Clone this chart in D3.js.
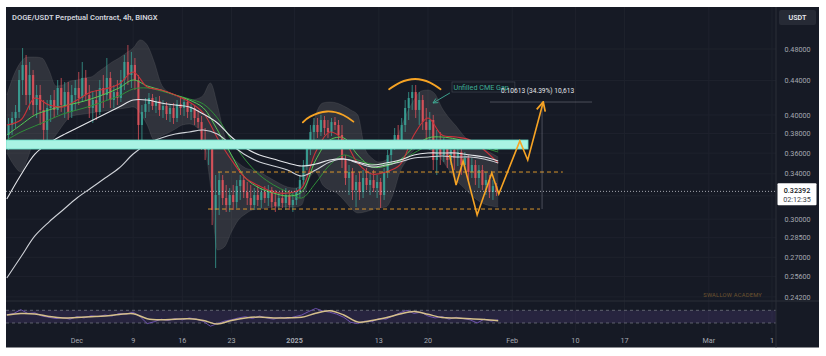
<!DOCTYPE html>
<html><head><meta charset="utf-8">
<script src="https://cdn.jsdelivr.net/npm/d3@7"></script>
<style>html,body{margin:0;padding:0;background:#fff;}svg{display:block;font-family:Roboto,"DejaVu Sans",sans-serif;}</style>
</head><body><svg id="c" width="826" height="356"></svg>
<script>
// ---------------- DATA ----------------
const title = "DOGE/USDT Perpetual Contract, 4h, BINGX";
const currency = "USDT";
const lastPrice = 0.32392;
const countdown = "02:12:35";
const watermark = "SWALLOW ACADEMY";

// 12h candles starting 2024-11-21 00:00 UTC
const candleStart = "2024-11-21T00:00:00Z";
const candleHours = 12;
const candleOpen = [
.3785,.3891,.3967,.4034,.4406,.4593,.4227,.4467,.4112,.4227,
.4056,.3838,.4078,.4169,.4056,.4310,.4112,.4262,.4034,.4227,
.4310,.4192,.4431,.4227,.4078,.4169,.4034,.4310,.4227,.4431,
.4169,.4262,.4192,.4406,.4631,.4467,.4593,.4406,.3891,.4034,
.4123,.4192,.4101,.4158,.4056,.4101,.4011,.4078,.3967,.4123,
.4078,.4146,.4034,.4078,.3967,.3923,.3733,.3631,.3682,.3077,
.3207,.3342,.3180,.3119,.3207,.3145,.3287,.3342,.3233,.3180,
.3119,.3207,.3163,.3233,.3180,.3251,.3145,.3111,.3180,.3137,
.3207,.3119,.3163,.3233,.3342,.3484,.3651,.3816,.3891,.3816,
.3945,.3859,.3816,.3923,.3891,.3785,.3532,.3361,.3417,.3251,
.3324,.3233,.3361,.3297,.3342,.3269,.3324,.3207,.3417,.3581,
.3682,.3785,.3733,.3891,.4078,.4192,.4262,.4056,.4169,.3923,
.3838,.3945,.3532,.3733,.3581,.3682,.3532,.3631,.3552,.3611,
.3484,.3552,.3417,.3484,.3361,.3436,.3297,.3342,.3233,.3287];
const candleHigh = [
.3967,.4034,.4112,.4530,.4813,.4721,.4631,.4530,.4346,.4346,
.4169,.4169,.4227,.4286,.4406,.4431,.4382,.4382,.4346,.4406,
.4505,.4631,.4530,.4346,.4262,.4286,.4406,.4467,.4682,.4505,
.4346,.4406,.4530,.4721,.4853,.4761,.4682,.4467,.4112,.4192,
.4251,.4239,.4204,.4216,.4169,.4146,.4123,.4135,.4169,.4192,
.4192,.4181,.4123,.4101,.4056,.3989,.3859,.3733,.3712,.3389,
.3417,.3389,.3297,.3269,.3297,.3342,.3389,.3380,.3324,.3297,
.3269,.3287,.3269,.3287,.3297,.3278,.3251,.3233,.3251,.3269,
.3251,.3233,.3269,.3389,.3532,.3733,.3891,.3967,.3967,.4000,
.3989,.3945,.3967,.3978,.3945,.3891,.3581,.3484,.3455,.3389,
.3417,.3436,.3455,.3417,.3436,.3389,.3361,.3455,.3631,.3733,
.3859,.3891,.3967,.4169,.4262,.4346,.4346,.4262,.4227,.4078,
.4034,.4000,.3838,.3816,.3754,.3733,.3682,.3672,.3651,.3651,
.3611,.3581,.3552,.3532,.3484,.3484,.3417,.3389,.3342,.3315];
const candleLow = [
.3631,.3785,.3859,.3967,.4227,.4112,.4056,.4000,.3967,.3891,
.3682,.3733,.3923,.3967,.4000,.4034,.3967,.3945,.3967,.4056,
.4112,.4146,.4169,.3967,.3913,.3945,.4000,.4078,.4169,.4078,
.4078,.4112,.4146,.4286,.4346,.4310,.4286,.3702,.3733,.3967,
.4034,.4056,.4022,.3989,.3967,.3945,.3923,.3902,.3923,.4000,
.3989,.3967,.3945,.3891,.3859,.3631,.3532,.3484,.2951,.2621,
.3034,.3119,.3060,.3060,.3077,.3094,.3163,.3180,.3119,.3077,
.3077,.3111,.3094,.3137,.3111,.3094,.3060,.3077,.3094,.3077,
.3077,.3060,.3119,.3180,.3297,.3436,.3581,.3733,.3754,.3774,
.3785,.3754,.3774,.3838,.3733,.3455,.3297,.3207,.3163,.3102,
.3163,.3180,.3251,.3207,.3233,.3180,.3094,.3163,.3361,.3484,
.3631,.3651,.3682,.3816,.3945,.4056,.3967,.3891,.3838,.3733,
.3631,.3436,.3389,.3484,.3513,.3455,.3484,.3436,.3474,.3389,
.3436,.3342,.3361,.3297,.3269,.3251,.3207,.3180,.3163,.3198];
const candleClose = [
.3891,.3967,.4034,.4406,.4593,.4227,.4467,.4112,.4227,.4056,
.3838,.4078,.4169,.4056,.4310,.4112,.4262,.4034,.4227,.4310,
.4192,.4431,.4227,.4078,.4169,.4034,.4310,.4227,.4431,.4169,
.4262,.4192,.4406,.4631,.4467,.4593,.4406,.3891,.4034,.4123,
.4192,.4101,.4158,.4056,.4101,.4011,.4078,.3967,.4123,.4078,
.4146,.4034,.4078,.3967,.3923,.3733,.3631,.3682,.3077,.3207,
.3342,.3180,.3119,.3207,.3145,.3287,.3342,.3233,.3180,.3119,
.3207,.3163,.3233,.3180,.3251,.3145,.3111,.3180,.3137,.3207,
.3119,.3163,.3233,.3342,.3484,.3651,.3816,.3891,.3816,.3945,
.3859,.3816,.3923,.3891,.3785,.3532,.3361,.3417,.3251,.3324,
.3233,.3361,.3297,.3342,.3269,.3324,.3207,.3417,.3581,.3682,
.3785,.3733,.3891,.4078,.4192,.4262,.4056,.4169,.3923,.3838,
.3945,.3532,.3733,.3581,.3682,.3532,.3631,.3552,.3611,.3484,
.3552,.3417,.3484,.3361,.3436,.3297,.3342,.3233,.3287,.32392];

// Moving averages, sampled every 2 days from 2024-11-21
const maStart = "2024-11-21T00:00:00Z";
const maStepDays = 2;
const maWhiteA = [.3171,.3389,.3591,.3702,.3785,.3859,.3934,.4011,.4090,.4169,.4169,.4135,.4112,.4090,.4011,.3913,.3764,.3651,.3581,.3542,.3503,.3474,.3493,.3532,.3542,.3513,.3484,.3503,.3532,.3581,.3601,.3601,.3601,.3581,.3562,.3523];
const maWhiteB = [.2550,.2702,.2864,.2976,.3077,.3180,.3269,.3361,.3455,.3591,.3692,.3754,.3795,.3816,.3838,.3795,.3682,.3581,.3513,.3474,.3436,.3380,.3436,.3513,.3542,.3503,.3465,.3484,.3513,.3552,.3562,.3572,.3562,.3562,.3542,.3503];
const maRed = [.3891,.3945,.4192,.4112,.4090,.4169,.4262,.4298,.4358,.4505,.4322,.4286,.4227,.4146,.4022,.3754,.3532,.3361,.3287,.3233,.3224,.3269,.3611,.3816,.3733,.3503,.3398,.3417,.3484,.3785,.3967,.3785,.3764,.3733,.3631,.3503];
const maGreenA = [.3785,.3891,.4000,.4056,.4101,.4135,.4181,.4239,.4310,.4406,.4334,.4286,.4227,.4169,.4078,.3838,.3581,.3361,.3269,.3224,.3198,.3233,.3532,.3733,.3754,.3581,.3465,.3474,.3532,.3662,.3754,.3764,.3743,.3712,.3672,.3631];
const maGreenB = [.3733,.3816,.3880,.3945,.4011,.4056,.4101,.4158,.4216,.4298,.4310,.4274,.4227,.4181,.4123,.3967,.3733,.3532,.3389,.3297,.3233,.3180,.3315,.3484,.3581,.3532,.3493,.3493,.3523,.3601,.3672,.3702,.3702,.3682,.3651,.3611];

// Envelope band, daily from 2024-11-21
const bandStart = "2024-11-21T00:00:00Z";
const bandUpper = [.4227,.4467,.4631,.4695,.4695,.4682,.4530,.4334,.4346,.4394,
.4406,.4431,.4443,.4505,.4567,.4631,.4682,.4747,.4813,.4922,
.4853,.4631,.4358,.4262,.4216,.4192,.4169,.4181,.4227,.4370,
.4112,.3785,.3581,.3503,.3455,.3436,.3417,.3380,.3342,.3306,
.3278,.3269,.3297,.3682,.4000,.4135,.4146,.4135,.4101,.4056,
.4000,.3651,.3552,.3513,.3532,.3662,.3838,.4022,.4169,.4274,
.4286,.4239,.4078,.3967,.3880,.3785,.3712,.3672,.3641,.3601,.3562];
const bandLower = [.3601,.3484,.3417,.3552,.3733,.3712,.3702,.3785,.3891,.3978,
.4000,.4011,.4022,.4034,.4045,.4056,.4067,.4078,.4090,.4022,
.3891,.3733,.3774,.3806,.3848,.3891,.3902,.3870,.3733,.3297,
.2755,.2778,.2895,.2993,.3043,.3077,.3085,.3094,.3102,.3102,
.3102,.3102,.3119,.3342,.3417,.3297,.3251,.3224,.3163,.3094,
.3051,.3060,.3077,.3094,.3102,.3207,.3417,.3532,.3631,.3662,
.3641,.3601,.3532,.3436,.3342,.3278,.3216,.3163,.3128,.3111,.3102];

// RSI (daily) and its moving average (every 2 days)
const rsiValues = [56,60,72,60,62,52,48,44,47,42,
50,46,53,50,55,52,60,58,64,50,
28,34,42,38,44,40,46,42,35,20,
28,36,40,46,50,44,52,46,42,48,
44,50,55,66,76,68,64,58,48,32,
28,36,34,44,42,52,62,70,60,64,
52,46,50,42,48,44,40,30,42,36,40];
const rsiMA = [55.2,59.9,58.3,50.5,45.7,47.3,49.5,52,56.5,59.3,43.5,40.1,42,43.2,37.9,26.8,37.9,45.7,48.9,45.7,46.4,48,60.6,68.4,55.2,33.1,37.9,46.4,58.3,66.2,57.4,47.3,45.7,43.5,41,37.2];
const rsiLevels = [70, 30];

// Axis ticks
const priceTicks = [0.48,0.44,0.40,0.38,0.36,0.34,0.30,0.285,0.27,0.256,0.242];
const priceGridOnly = [0.32];
const timeTickDates = ["2024-12-01","2024-12-09","2024-12-16","2024-12-23","2025-01-01","2025-01-13","2025-01-20","2025-02-01","2025-02-10","2025-02-17","2025-03-01","2025-03-10"];
const timeTickLabels = ["Dec","9","16","23","2025","13","20","Feb","10","17","Mar","1"];

// Drawings
const zoneTop = 0.3733, zoneBottom = 0.3641, zoneEnd = "2025-02-03T06:00:00Z";
const levelUpper = {price:0.3417, from:"2024-12-21T02:00:00Z", to:"2025-02-08T05:00:00Z"};
const levelLower = {price:0.3085, from:"2024-12-19T16:00:00Z", to:"2025-02-04T23:00:00Z"};
const projDates = ["2025-01-23T02:00:00Z","2025-01-24T00:00:00Z","2025-01-25T00:00:00Z","2025-01-27T00:00:00Z","2025-01-29T02:00:00Z","2025-01-30T02:00:00Z","2025-02-02T02:00:00Z","2025-02-03T05:00:00Z","2025-02-05T10:00:00Z"];
const projPrices = [0.3581,0.3297,0.3523,0.3034,0.3408,0.3216,0.3723,0.3532,0.4146];
const arc1Dates = ["2025-01-02T04:00:00Z","2025-01-03T05:00:00Z","2025-01-05T14:00:00Z","2025-01-07T22:00:00Z","2025-01-09T09:00:00Z"];
const arc1Prices = [0.3920,0.3982,0.4039,0.4000,0.3927];
const arc2Dates = ["2025-01-14T11:00:00Z","2025-01-16T00:00:00Z","2025-01-18T04:00:00Z","2025-01-20T07:00:00Z","2025-01-21T19:00:00Z"];
const arc2Prices = [0.4294,0.4374,0.4418,0.4374,0.4294];
const cmeLabel = {text:"Unfilled CME Gap", from:"2025-01-23T10:00:00Z", to:"2025-02-01T09:00:00Z", top:0.4382, bottom:0.4262};
const cmeArrow = {fromDate:"2025-01-23T03:00:00Z", fromPrice:0.4251, toDate:"2025-01-20T17:00:00Z", toPrice:0.4135};
const measure = {date:"2025-02-05T06:00:00Z", low:0.3085, high:0.4146, lineFrom:"2025-01-28T20:00:00Z", lineTo:"2025-02-12T09:00:00Z",
  text:"0.10613 (34.39%) 10,613", textDate:"2025-01-30T10:00:00Z", textPrice:0.4256};

// ---------------- DRAW ----------------
const svg = d3.select("#c");
const P = {x0:6, x1:819, y0:7, y1:347.5};     // chart panel
const M = {x0:6, x1:776, y0:7, y1:301};       // main pane
const R = {y0:301, y1:333};                   // RSI pane
const BG = "#161a25", GRID = "#1e222d", AX = "#a5a8b1", SEP = "#2a2e39";
const ORANGE = "#f6a324";

const x = d3.scaleUtc().domain([new Date(Date.UTC(2024,10,20,21,16)), new Date(Date.UTC(2025,2,10,13,45))]).range([M.x0, M.x1]);
const y = d3.scaleLog().domain([0.48, 0.242]).range([49, 296.9]);
const yr = d3.scaleLinear().domain([0,100]).range([332.5, 300.8]);
const D = s => new Date(s);
const HOUR = 3600e3, DAY = 24*HOUR;

const defs = svg.append("defs");
defs.append("clipPath").attr("id","clipM").append("rect").attr("x",M.x0).attr("y",M.y0).attr("width",M.x1-M.x0).attr("height",M.y1-M.y0);
defs.append("clipPath").attr("id","clipR").append("rect").attr("x",M.x0).attr("y",R.y0).attr("width",M.x1-M.x0).attr("height",R.y1-R.y0);
defs.append("marker").attr("id","arrO").attr("markerUnits","userSpaceOnUse").attr("viewBox","0 0 10 10")
  .attr("refX",9).attr("refY",5).attr("markerWidth",11).attr("markerHeight",11).attr("orient","auto")
  .append("path").attr("d","M1,1 L9,5 L1,9").attr("fill","none").attr("stroke",ORANGE).attr("stroke-width",1.6).attr("stroke-linejoin","miter");
defs.append("marker").attr("id","arrT").attr("markerUnits","userSpaceOnUse").attr("viewBox","0 0 10 10")
  .attr("refX",9).attr("refY",5).attr("markerWidth",6).attr("markerHeight",6).attr("orient","auto")
  .append("path").attr("d","M1,1 L9,5 L1,9").attr("fill","none").attr("stroke","#3fae96").attr("stroke-width",1.4);

// panel
svg.append("rect").attr("x",P.x0).attr("y",P.y0).attr("width",P.x1-P.x0).attr("height",P.y1-P.y0).attr("fill",BG);

// grid
const gridG = svg.append("g");
timeTickDates.forEach(d => {
  gridG.append("line").attr("x1",x(D(d+"T00:00:00Z"))).attr("x2",x(D(d+"T00:00:00Z"))).attr("y1",M.y0).attr("y2",R.y1)
    .attr("stroke",GRID).attr("stroke-width",1);
});
priceTicks.concat(priceGridOnly).forEach(p => {
  gridG.append("line").attr("x1",M.x0).attr("x2",M.x1).attr("y1",y(p)).attr("y2",y(p)).attr("stroke",GRID).attr("stroke-width",1);
});

// main pane content
const main = svg.append("g").attr("clip-path","url(#clipM)");

// envelope band
const t0b = D(bandStart).getTime();
const bandData = bandUpper.map((u,i)=>({t:new Date(t0b+i*DAY), u, l:bandLower[i]}));
main.append("path").datum(bandData)
  .attr("d", d3.area().x(d=>x(d.t)).y0(d=>y(d.l)).y1(d=>y(d.u)).curve(d3.curveMonotoneX))
  .attr("fill","rgba(135,135,135,0.24)");
["u","l"].forEach(k=>{
  main.append("path").datum(bandData)
    .attr("d", d3.line().x(d=>x(d.t)).y(d=>y(d[k])).curve(d3.curveMonotoneX))
    .attr("fill","none").attr("stroke","rgba(160,160,160,0.2)").attr("stroke-width",0.7);
});

// candles
const t0c = D(candleStart).getTime();
const candles = candleOpen.map((o,i)=>({t:new Date(t0c + i*candleHours*HOUR + candleHours*HOUR/2), o, h:candleHigh[i], l:candleLow[i], c:candleClose[i]}));
const step = x(new Date(t0c+candleHours*HOUR)) - x(new Date(t0c));
const bw = step*0.62;
const UP = "#3aa396", DN = "#e0545c";
const cg = main.append("g");
cg.selectAll("line").data(candles).join("line")
  .attr("x1",d=>x(d.t)).attr("x2",d=>x(d.t)).attr("y1",d=>y(d.h)).attr("y2",d=>y(d.l))
  .attr("stroke",d=>d.c>=d.o?UP:DN).attr("stroke-width",0.9).attr("opacity",0.85);
cg.selectAll("rect").data(candles).join("rect")
  .attr("x",d=>x(d.t)-bw/2).attr("width",bw)
  .attr("y",d=>Math.min(y(d.o),y(d.c))).attr("height",d=>Math.max(1,Math.abs(y(d.o)-y(d.c))))
  .attr("fill",d=>d.c>=d.o?UP:DN).attr("opacity",0.85);

// moving averages
const t0m = D(maStart).getTime();
function maLine(arr, color, w){
  const data = arr.map((v,i)=>({t:new Date(t0m+i*maStepDays*DAY), v}));
  main.append("path").datum(data)
    .attr("d", d3.line().x(d=>x(d.t)).y(d=>y(d.v)).curve(d3.curveCatmullRom))
    .attr("fill","none").attr("stroke",color).attr("stroke-width",w);
}
maLine(maGreenB, "#2f8f3a", 1.0);
maLine(maGreenA, "#55c955", 1.0);
maLine(maRed, "#cc333a", 1.1);
maLine(maWhiteB, "#cfd2d8", 1.1);
maLine(maWhiteA, "#e4e6ea", 1.1);

// current price dotted line
main.append("line").attr("x1",M.x0).attr("x2",M.x1).attr("y1",y(lastPrice)).attr("y2",y(lastPrice))
  .attr("stroke","#c9ccd4").attr("stroke-width",0.8).attr("stroke-dasharray","1,2");

// zone
main.append("rect").attr("x",M.x0).attr("width",x(D(zoneEnd))-M.x0)
  .attr("y",y(zoneTop)).attr("height",y(zoneBottom)-y(zoneTop))
  .attr("fill","#a9f3e3").attr("stroke","#66d8c3").attr("stroke-width",0.8);

// levels
[levelUpper, levelLower].forEach(L=>{
  main.append("line").attr("x1",x(D(L.from))).attr("x2",x(D(L.to))).attr("y1",y(L.price)).attr("y2",y(L.price))
    .attr("stroke","#d8952c").attr("stroke-width",1).attr("stroke-dasharray","4,3");
});

// measure tool
main.append("line").attr("x1",x(D(measure.lineFrom))).attr("x2",x(D(measure.lineTo))).attr("y1",y(measure.high)).attr("y2",y(measure.high))
  .attr("stroke","rgba(190,190,200,0.4)").attr("stroke-width",0.8);
main.append("line").attr("x1",x(D(measure.date))).attr("x2",x(D(measure.date))).attr("y1",y(measure.high)).attr("y2",y(measure.low))
  .attr("stroke","rgba(190,190,200,0.4)").attr("stroke-width",0.8);

// arcs
[[arc1Dates,arc1Prices],[arc2Dates,arc2Prices]].forEach(([ds,ps])=>{
  main.append("path").datum(ds.map((d,i)=>({t:D(d),p:ps[i]})))
    .attr("d", d3.line().x(d=>x(d.t)).y(d=>y(d.p)).curve(d3.curveNatural))
    .attr("fill","none").attr("stroke",ORANGE).attr("stroke-width",1.8).attr("stroke-linecap","round");
});

// projection path
main.append("path").datum(projDates.map((d,i)=>({t:D(d),p:projPrices[i]})))
  .attr("d", d3.line().x(d=>x(d.t)).y(d=>y(d.p)))
  .attr("fill","none").attr("stroke",ORANGE).attr("stroke-width",1.6).attr("stroke-linejoin","miter")
  .attr("marker-end","url(#arrO)");

// CME label
const cx0 = x(D(cmeLabel.from)), cx1 = x(D(cmeLabel.to)), cy0 = y(cmeLabel.top), cy1 = y(cmeLabel.bottom);
main.append("rect").attr("x",cx0).attr("y",cy0).attr("width",cx1-cx0).attr("height",cy1-cy0)
  .attr("fill","rgba(22,26,37,0.6)").attr("stroke","rgba(140,150,160,0.35)").attr("stroke-width",0.7);
main.append("text").attr("x",cx0+1.5).attr("y",cy1-2.2).text(cmeLabel.text).attr("fill","#3fae96").attr("font-size",7.2);
main.append("line").attr("x1",x(D(cmeArrow.fromDate))).attr("y1",y(cmeArrow.fromPrice))
  .attr("x2",x(D(cmeArrow.toDate))).attr("y2",y(cmeArrow.toPrice))
  .attr("stroke","#3fae96").attr("stroke-width",0.9).attr("marker-end","url(#arrT)");
main.append("text").attr("x",x(D(measure.textDate))).attr("y",y(measure.textPrice)).text(measure.text)
  .attr("fill","#e3e5ea").attr("font-size",6.6);

// watermark
svg.append("text").attr("x",762).attr("y",297).attr("text-anchor","end").text(watermark)
  .attr("fill","#6e5430").attr("font-size",5.8).attr("letter-spacing",0.2);

// title
svg.append("text").attr("x",12).attr("y",20).text(title).attr("fill","#d1d4dc").attr("font-size",7.6).attr("font-weight",600);

// RSI pane
svg.append("line").attr("x1",P.x0).attr("x2",P.x1).attr("y1",R.y0).attr("y2",R.y0).attr("stroke",SEP).attr("stroke-width",1);
const rg = svg.append("g").attr("clip-path","url(#clipR)");
rg.append("rect").attr("x",M.x0).attr("width",M.x1-M.x0).attr("y",yr(rsiLevels[0])).attr("height",yr(rsiLevels[1])-yr(rsiLevels[0]))
  .attr("fill","rgba(126,87,194,0.17)");
rsiLevels.forEach(v=>{
  rg.append("line").attr("x1",M.x0).attr("x2",M.x1).attr("y1",yr(v)).attr("y2",yr(v))
    .attr("stroke","#7d7f8a").attr("stroke-width",0.7).attr("stroke-dasharray","3,3");
});
const rsiData = rsiValues.map((v,i)=>({t:new Date(t0b+i*DAY), v}));
rg.append("path").datum(rsiData).attr("d", d3.line().x(d=>x(d.t)).y(d=>yr(d.v)))
  .attr("fill","none").attr("stroke","#7e5cc9").attr("stroke-width",0.8);
const rsiMAData = rsiMA.map((v,i)=>({t:new Date(t0m+i*maStepDays*DAY), v}));
rg.append("path").datum(rsiMAData).attr("d", d3.line().x(d=>x(d.t)).y(d=>yr(d.v)).curve(d3.curveCatmullRom))
  .attr("fill","none").attr("stroke","#d6c08c").attr("stroke-width",1.5);

// price axis
svg.append("line").attr("x1",M.x1).attr("x2",M.x1).attr("y1",P.y0).attr("y2",P.y1).attr("stroke",SEP).attr("stroke-width",1);
const pa = svg.append("g");
priceTicks.forEach(p=>{
  pa.append("text").attr("x",797.5).attr("y",y(p)+2.6).attr("text-anchor","middle").text(d3.format(".5f")(p))
    .attr("fill",AX).attr("font-size",7.2);
});
pa.append("rect").attr("x",779).attr("y",10).attr("width",37).attr("height",15).attr("rx",2).attr("fill","#262a35");
pa.append("text").attr("x",797.5).attr("y",20).attr("text-anchor","middle").text(currency).attr("fill","#e6e8ed").attr("font-size",7.2).attr("font-weight",600);
const ly = y(lastPrice);
pa.append("rect").attr("x",777.5).attr("y",ly-8).attr("width",39).attr("height",22).attr("fill","#ffffff").attr("rx",1);
pa.append("text").attr("x",797).attr("y",ly+1.5).attr("text-anchor","middle").text(d3.format(".5f")(lastPrice)).attr("fill","#131722").attr("font-size",7.2).attr("font-weight",500);
pa.append("text").attr("x",797).attr("y",ly+11).attr("text-anchor","middle").text(countdown).attr("fill","#3b3f4a").attr("font-size",7.2);

// time axis
const ta = svg.append("g");
timeTickDates.forEach((d,i)=>{
  ta.append("text").attr("x",x(D(d+"T00:00:00Z"))).attr("y",342.5).attr("text-anchor","middle").text(timeTickLabels[i])
    .attr("fill",AX).attr("font-size",7.2).attr("font-weight", timeTickLabels[i]==="2025"?700:400);
});
</script></body></html>
